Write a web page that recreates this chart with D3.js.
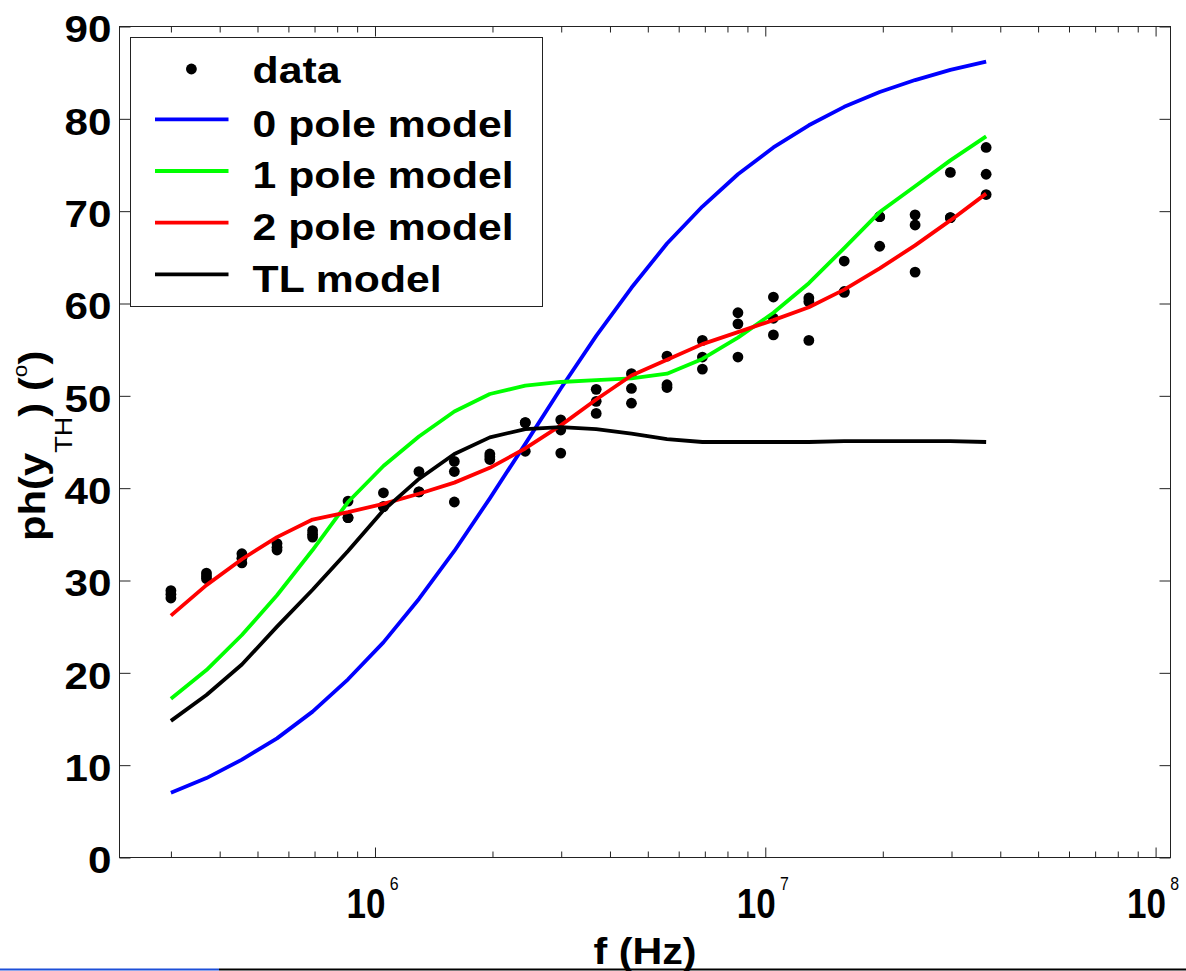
<!DOCTYPE html>
<html><head><meta charset="utf-8">
<script src="https://cdn.jsdelivr.net/npm/d3@7"></script>
<style>html,body{margin:0;padding:0;background:#fff;} svg{display:block;font-family:"Liberation Sans",Arial,Helvetica,sans-serif;}</style>
</head><body><svg id="c" width="1186" height="971"></svg>
<script>
// ---- data ----
const freqs = [3.00e5, 3.70e5, 4.56e5, 5.61e5, 6.92e5, 8.53e5, 1.051e6, 1.296e6, 1.597e6, 1.969e6, 2.427e6, 2.992e6,
               3.688e6, 4.54e6, 5.60e6, 6.90e6, 8.51e6, 1.049e7, 1.293e7, 1.593e7, 1.964e7, 2.42e7, 2.98e7, 3.68e7];
const pole0 = [7.0, 8.6, 10.6, 12.9, 15.8, 19.3, 23.3, 28.0, 33.2, 38.9, 44.8, 50.8,
               56.5, 61.7, 66.5, 70.5, 74.0, 76.9, 79.3, 81.3, 82.9, 84.2, 85.3, 86.2];
const pole1 = [17.2, 20.3, 24.1, 28.4, 33.3, 38.5, 42.4, 45.6, 48.3, 50.2, 51.1, 51.5,
               51.7, 51.9, 52.4, 54.0, 56.3, 59.0, 62.2, 66.0, 69.9, 72.7, 75.5, 78.1];
const pole2 = [26.2, 29.5, 32.3, 34.7, 36.6, 37.4, 38.3, 39.4, 40.6, 42.2, 44.3, 46.8,
               49.6, 52.2, 53.9, 55.6, 56.9, 58.2, 59.6, 61.5, 63.8, 66.3, 69.0, 71.9];
const tlModel = [14.8, 17.6, 20.9, 25.0, 29.0, 33.2, 37.6, 41.0, 43.7, 45.5, 46.4, 46.6,
                 46.4, 45.9, 45.3, 45.0, 45.0, 45.0, 45.0, 45.1, 45.1, 45.1, 45.1, 45.0];
const dataA = [28.9, 30.8, 32.9, 34.0, 35.4, 38.6, 39.5, 41.8, 42.9, 43.7, 47.1, 47.4,
               50.7, 52.4, 54.3, 56.0, 59.0, 60.7, 60.6, 64.6, 69.4, 69.6, 74.2, 76.9];
const dataB = [28.5, 30.5, 32.4, 33.6, 35.0, 36.8, 38.0, 39.6, 41.8, 43.4, 47.1, 46.3,
               49.4, 50.8, 51.2, 54.2, 57.8, 58.4, 60.2, 61.3, 69.4, 68.5, 69.3, 74.0];
const dataC = [28.1, 30.2, 31.9, 33.3, 34.7, 36.8, 38.0, 39.6, 38.5, 43.1, 44.0, 43.8,
               48.1, 49.2, 50.9, 52.9, 54.2, 56.6, 56.0, 61.2, 66.2, 63.4, 69.3, 71.8];
const yTicks = [0, 10, 20, 30, 40, 50, 60, 70, 80, 90];
const xMajor = [1e6, 1e7, 1e8];
const xMajorExp = ["6", "7", "8"];
const legendLabels = ["data", "0 pole model", "1 pole model", "2 pole model", "TL model"];
const seriesColors = ["#0000ff", "#00ff00", "#ff0000", "#000000"];

// ---- layout ----
const L = 119.5, R = 1170.5, T = 26.5, B = 857.5;
const svg = d3.select("#c");
const x = d3.scaleLog().domain([Math.pow(10, 5.3454), Math.pow(10, 8.0382)]).range([L, R]);
const y = d3.scaleLinear().domain([0, 90]).range([B, T]);

function fit(sel, factor, anchor, ax) {
  const n = sel.node();
  const w = n.getComputedTextLength();
  const nw = w * factor;
  sel.attr("textLength", nw).attr("lengthAdjust", "spacingAndGlyphs").attr("text-anchor", "start")
     .attr("x", anchor === "end" ? ax - nw : anchor === "middle" ? ax - nw / 2 : ax);
  return nw;
}

svg.append("rect").attr("width", 1186).attr("height", 971).attr("fill", "#fff");

// data points first
const pts = [];
[dataA, dataB, dataC].forEach(arr => arr.forEach((v, i) => pts.push([freqs[i], v])));
svg.append("g").selectAll("circle").data(pts).join("circle")
  .attr("cx", d => x(d[0])).attr("cy", d => y(d[1])).attr("r", 5.4).attr("fill", "#000");

// model lines
const models = [pole0, pole1, pole2, tlModel];
const line = d3.line().x((d, i) => x(freqs[i])).y(d => y(d));
models.forEach((m, k) => {
  svg.append("path").attr("d", line(m)).attr("fill", "none")
    .attr("stroke", seriesColors[k]).attr("stroke-width", 3.8)
    .attr("stroke-linejoin", "round").attr("stroke-linecap", "butt");
});

// axes frame
svg.append("rect").attr("x", L).attr("y", T).attr("width", R - L).attr("height", B - T)
  .attr("fill", "none").attr("stroke", "#222").attr("stroke-width", 1);

const minor = x.ticks().filter(t => !xMajor.some(m => Math.abs(m - t) / m < 1e-9));
function styleAxis(g) { g.select(".domain").remove(); g.selectAll(".tick line").attr("stroke", "#222"); }

svg.append("g").attr("transform", `translate(0,${B})`)
  .call(d3.axisBottom(x).tickValues(minor).tickSize(-6).tickFormat("")).call(styleAxis);
svg.append("g").attr("transform", `translate(0,${T})`)
  .call(d3.axisTop(x).tickValues(minor).tickSize(-6).tickFormat("")).call(styleAxis);
svg.append("g").attr("transform", `translate(0,${T})`)
  .call(d3.axisTop(x).tickValues(xMajor).tickSize(-10).tickFormat("")).call(styleAxis);
const xb = svg.append("g").attr("transform", `translate(0,${B})`)
  .call(d3.axisBottom(x).tickValues(xMajor).tickSize(-10).tickFormat("")).call(styleAxis);
xb.selectAll(".tick").each(function (d, i) {
  const g = d3.select(this);
  const t = g.append("text").attr("transform", "translate(-29,60.5) scale(0.835,1)")
    .attr("text-anchor", "start").attr("x", 0).attr("y", 0)
    .attr("fill", "#000").attr("font-size", 42).attr("font-weight", "bold");
  t.append("tspan").text("10");
  t.append("tspan").attr("font-size", 19).attr("font-weight", "normal")
    .attr("dx", 5).attr("dy", -28).text(xMajorExp[i]);
});

const yl = svg.append("g").attr("transform", `translate(${L},0)`)
  .call(d3.axisLeft(y).tickValues(yTicks).tickSize(-11).tickPadding(8)).call(styleAxis);
yl.selectAll(".tick text").attr("fill", "#000").attr("font-size", 37).attr("font-weight", "bold")
  .attr("font-family", '"Liberation Sans", Arial, sans-serif').attr("dy", "0.41em")
  .each(function () { fit(d3.select(this), 1.14, "end", -8); });
svg.append("g").attr("transform", `translate(${R},0)`)
  .call(d3.axisRight(y).tickValues(yTicks).tickSize(-11).tickFormat("")).call(styleAxis);

// axis titles
const xt = svg.append("text").attr("y", 964).attr("fill", "#000").attr("font-size", 37.5)
  .attr("font-weight", "bold").text("f (Hz)");
fit(xt, 1.10, "middle", 645);

const yt = svg.append("text").attr("transform", "translate(45,541) rotate(-90) scale(1.13,1)")
  .attr("x", 0).attr("y", 0).attr("fill", "#000").attr("font-size", 37).attr("font-weight", "bold");
yt.append("tspan").text("ph(y");
yt.append("tspan").attr("font-size", 24).attr("font-weight", "normal").attr("dy", 27).text("TH");
yt.append("tspan").attr("dy", -27).text(") (");
yt.append("tspan").attr("font-size", 20).attr("font-weight", "normal").attr("dy", -18).text("o");
yt.append("tspan").attr("dy", 18).text(")");

// legend
const lg = svg.append("g");
lg.append("rect").attr("x", 130.5).attr("y", 37.5).attr("width", 412).attr("height", 269)
  .attr("fill", "#fff").attr("stroke", "#222").attr("stroke-width", 1);
const rowBase = [83.3, 136.7, 188.3, 240, 291.7];
legendLabels.forEach((lab, i) => {
  const t = lg.append("text").attr("y", rowBase[i]).attr("fill", "#000").attr("font-size", 36.5)
    .attr("font-weight", "bold").text(lab);
  fit(t, 1.17, "start", 252.6);
  if (i === 0) {
    lg.append("circle").attr("cx", 191.4).attr("cy", rowBase[i] - 14.3).attr("r", 5.4).attr("fill", "#000");
  } else {
    lg.append("line").attr("x1", 155).attr("x2", 228.5)
      .attr("y1", rowBase[i] - 17.3).attr("y2", rowBase[i] - 17.3)
      .attr("stroke", seriesColors[i - 1]).attr("stroke-width", 3.8);
  }
});

// bottom strip line (as in the reference screenshot)
svg.append("line").attr("x1", 0).attr("x2", 219).attr("y1", 969.5).attr("y2", 969.5)
  .attr("stroke", "#1d4fd8").attr("stroke-width", 2);
svg.append("line").attr("x1", 219).attr("x2", 1186).attr("y1", 969.5).attr("y2", 969.5)
  .attr("stroke", "#000").attr("stroke-width", 2);
</script>
</body></html>
